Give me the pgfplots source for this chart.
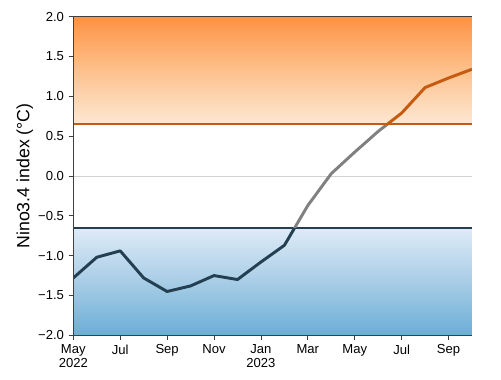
\documentclass[border=0pt]{standalone}
\usepackage{pgfplots}
\pgfplotsset{compat=1.18}
\usepackage{pgfplotstable}
\usepackage{fontspec}
\setmainfont{Liberation Sans}
\usetikzlibrary{calc}
\definecolor{nblue}{HTML}{243F52}
\definecolor{norange}{HTML}{C55A11}
\definecolor{ngray}{HTML}{808080}
\definecolor{otop}{HTML}{FD9243}
\definecolor{omid}{HTML}{FDC18C}
\definecolor{obot}{HTML}{FDE8D4}
\definecolor{btop}{HTML}{DFEBF7}
\definecolor{bmid}{HTML}{A8CDE6}
\definecolor{bbot}{HTML}{6AAED6}
\definecolor{spine}{HTML}{404040}

\pgfplotstableread{
m v
0 -1.28
1 -1.02
2 -0.94
3 -1.28
4 -1.45
5 -1.38
6 -1.25
7 -1.30
8 -1.08
9 -0.87
10 -0.37
11 0.03
12 0.30
13 0.56
14 0.79
15 1.11
16 1.23
17 1.34
}\ninotable

\begin{document}
\begin{tikzpicture}
\begin{axis}[
  width=299pt, height=239pt, scale only axis,
  xmin=0, xmax=17, ymin=-2, ymax=2,
  axis x line*=box, axis y line*=left,
  axis on top,
  xtick={0,2,...,16},
  xticklabels={May\\2022,Jul,Sep,Nov,Jan\\2023,Mar,May,Jul,Sep},
  ytick={-2,-1.5,-1,-0.5,0,0.5,1,1.5,2},
  yticklabels={−2.0,−1.5,−1.0,−0.5,0.0,0.5,1.0,1.5,2.0},
  xticklabel style={align=center, font=\fontsize{9.8}{10.5}\selectfont},
  yticklabel style={font=\fontsize{9.8}{10.5}\selectfont},
  tick align=outside, xtick pos=lower, ytick pos=left,
  major tick length=3.5pt,
  tick style={draw=spine, line width=0.6pt},
  axis line style={draw=spine, line width=0.8pt},
  ylabel={Nino3.4 index (°C)},
  ylabel style={font=\fontsize{13.3}{14}\selectfont, at={(axis description cs:-0.122,0.5)}, anchor=center},
]
\addplot[draw=none, top color=otop, bottom color=obot, middle color=omid] coordinates {(0,0.65)(17,0.65)(17,2)(0,2)} -- cycle;
\addplot[draw=none, top color=btop, bottom color=bbot, middle color=bmid] coordinates {(0,-2)(17,-2)(17,-0.65)(0,-0.65)} -- cycle;
\addplot[gray!35, line width=0.7pt] coordinates {(0,0)(17,0)};
\addplot[norange, line width=1.1pt] coordinates {(0,0.65)(17,0.65)};
\addplot[nblue, line width=1.1pt] coordinates {(0,-0.65)(17,-0.65)};
\begin{scope}
\clip (axis cs:0,-2.1) rectangle (axis cs:17,-0.65);
\addplot[nblue, line width=2.2pt, line join=round] table[x=m,y=v] {\ninotable};
\end{scope}
\begin{scope}
\clip (axis cs:0,-0.65) rectangle (axis cs:17,0.65);
\addplot[ngray, line width=2.2pt, line join=round] table[x=m,y=v] {\ninotable};
\end{scope}
\begin{scope}
\clip (axis cs:0,0.65) rectangle (axis cs:17,2.1);
\addplot[norange, line width=2.2pt, line join=round] table[x=m,y=v] {\ninotable};
\end{scope}
\end{axis}
\pgfresetboundingbox
\path[use as bounding box] ($(current axis.south west)+(-55pt,-33pt)$) rectangle ($(current axis.north east)+(21.75pt,12.5pt)$);
\end{tikzpicture}
\end{document}
